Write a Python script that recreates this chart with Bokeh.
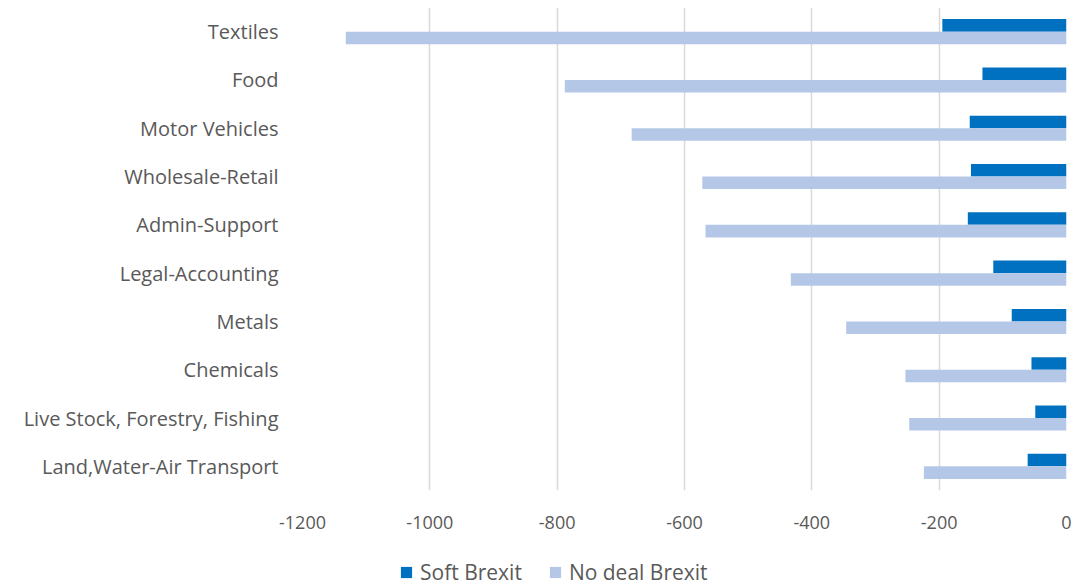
from bokeh.plotting import figure
from bokeh.layouts import column
from bokeh.models import (FactorRange, Range1d, FixedTicker, Legend, LegendItem,
                          ColumnDataSource, CustomJSTickFormatter)
from bokeh.transform import dodge
from bokeh.embed import file_html
from bokeh.resources import INLINE

categories = ["Textiles", "Food", "Motor Vehicles", "Wholesale-Retail", "Admin-Support",
              "Legal-Accounting", "Metals", "Chemicals", "Live Stock, Forestry, Fishing",
              "Land,Water-Air Transport"]
soft_brexit = [-195, -132, -152, -150, -155, -115, -86, -55, -49, -61]
no_deal_brexit = [-1132, -788, -683, -572, -567, -433, -346, -253, -247, -224]
x_ticks = [-1200, -1000, -800, -600, -400, -200, 0]
series_names = ["Soft Brexit", "No deal Brexit"]
series_colors = ["#0070C0", "#B4C7E7"]

src = ColumnDataSource(dict(cat=categories, soft=soft_brexit, nodeal=no_deal_brexit))

FONT = "Open Sans"
GRAY = "#595959"

p = figure(width=1077, height=545, output_backend="svg", toolbar_location=None,
           y_range=FactorRange(*reversed(categories), range_padding=0),
           x_range=Range1d(-1200, 0),
           min_border_left=302, min_border_right=11, min_border_top=7, min_border_bottom=55)
p.outline_line_color = None

p.hbar(y=dodge("cat", 0.13, range=p.y_range), left=0, right="soft", height=0.26,
       source=src, fill_color=series_colors[0], line_color=None)
p.hbar(y=dodge("cat", -0.13, range=p.y_range), left=0, right="nodeal", height=0.26,
       source=src, fill_color=series_colors[1], line_color=None)

p.xaxis.ticker = FixedTicker(ticks=x_ticks)
p.xaxis.formatter = CustomJSTickFormatter(code="return tick.toString();")
p.xaxis.axis_line_color = None
p.xaxis.major_tick_line_color = None
p.xaxis.minor_tick_line_color = None
p.xaxis.major_label_text_font = FONT
p.xaxis.major_label_text_font_size = "18px"
p.xaxis.major_label_text_color = GRAY
p.xaxis.major_label_standoff = 19

p.yaxis.axis_line_color = None
p.yaxis.major_tick_line_color = None
p.yaxis.minor_tick_line_color = None
p.yaxis.major_label_text_font = FONT
p.yaxis.major_label_text_font_size = "20px"
p.yaxis.major_label_text_color = GRAY
p.yaxis.major_label_standoff = 18

p.ygrid.grid_line_color = None
p.xgrid.grid_line_color = "#D9D9D9"
p.xgrid.grid_line_width = 1.5

# legend strip below the chart
leg = figure(width=1077, height=42, output_backend="svg", toolbar_location=None,
             x_range=Range1d(0, 1), y_range=Range1d(0, 1),
             min_border=0, min_border_left=0, min_border_right=0,
             min_border_top=0, min_border_bottom=0)
leg.outline_line_color = None
leg.axis.visible = False
leg.grid.visible = False
items = []
for name, col in zip(series_names, series_colors):
    # dummy renderer placed outside the visible range, used only for the legend swatch
    r = leg.hbar(y=[5], left=[5], right=[6], height=0.26, fill_color=col, line_color=None)
    items.append(LegendItem(label=name, renderers=[r]))

legend = Legend(items=items, orientation="horizontal", location=(97, 1),
                label_text_font=FONT, label_text_font_size="21px", label_text_color=GRAY,
                glyph_width=14, glyph_height=14, padding=0, margin=0, spacing=26,
                label_standoff=7, border_line_color=None, background_fill_alpha=0)
leg.add_layout(legend, "center")

layout = column(p, leg, spacing=0)
open("out.html", "w").write(file_html(layout, INLINE))
